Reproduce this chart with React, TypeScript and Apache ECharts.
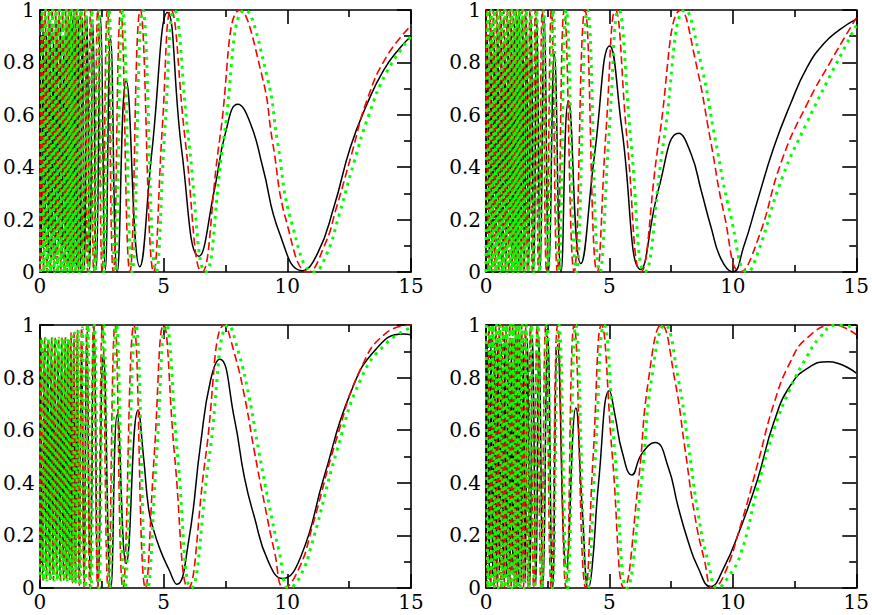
import React, { useEffect, useRef } from "react";
import * as echarts from "echarts";

const xTicks = [0, 5, 10, 15];
const yTicks = [0, 0.2, 0.4, 0.6, 0.8, 1];

// Panel 1 (top left)
const p1Black = [
  [0, 0.9], [0.06, 0.05], [0.13, 0.95], [0.2, 0.1], [0.27, 0.9], [0.34, 0.05], [0.41, 0.95], [0.48, 0.05], [0.55, 0.9],
  [0.62, 0.05], [0.69, 0.95], [0.76, 0.1], [0.83, 0.95], [0.9, 0.05], [0.97, 0.9], [1.04, 0.05], [1.1, 0.95], [1.16, 0.03],
  [1.22, 0.95], [1.27, 0.03], [1.32, 0.97], [1.37, 0.02], [1.43, 0.97], [1.49, 0.02], [1.56, 0.97], [1.64, 0.01], [1.72, 0.97],
  [1.81, 0.01], [1.91, 0.97], [2.02, 0.01], [2.15, 0.95], [2.29, 0.01], [2.46, 0.97], [2.65, 0.01], [2.86, 0.89], [3.13, 0.0],
  [3.49, 0.73], [4.04, 0.02], [4.53, 0.46], [5.16, 0.99], [5.74, 0.46], [6.43, 0.06], [7.07, 0.32], [7.5, 0.53], [8.0, 0.64],
  [8.5, 0.57], [9.01, 0.4], [9.68, 0.15], [10.6, 0.005], [11.22, 0.07], [11.89, 0.25], [12.55, 0.476], [13.22, 0.64],
  [13.89, 0.77], [14.56, 0.856], [15, 0.9],
];
const p1Red = [
  [0.01, 0], [0.08, 1], [0.15, 0], [0.22, 1], [0.29, 0], [0.36, 1], [0.43, 0], [0.5, 1], [0.57, 0], [0.64, 1], [0.71, 0],
  [0.78, 1], [0.85, 0], [0.92, 1], [0.99, 0], [1.05, 1], [1.11, 0], [1.16, 1], [1.21, 0], [1.26, 1], [1.31, 0], [1.37, 1],
  [1.42, 0], [1.49, 1], [1.56, 0], [1.64, 1], [1.72, 0], [1.82, 1], [1.93, 0], [2.05, 1], [2.18, 0], [2.34, 1], [2.52, 0],
  [2.73, 1], [2.97, 0], [3.27, 1], [3.64, 0], [4.06, 1], [4.6, 0], [4.95, 0.55], [5.3, 1], [5.88, 0.5], [6.55, 0], [7.26, 0.5],
  [8.1, 1], [9.0, 0.74], [9.4, 0.5], [10.0, 0.18], [10.85, 0], [11.5, 0.1], [12, 0.25], [12.6, 0.45], [13.2, 0.65],
  [14, 0.82], [15, 0.94],
];
const p1Green = [
  [0.03, 0], [0.1, 1], [0.17, 0], [0.24, 1], [0.31, 0], [0.38, 1], [0.45, 0], [0.52, 1], [0.59, 0], [0.66, 1], [0.73, 0],
  [0.8, 1], [0.87, 0], [0.94, 1], [1.01, 0], [1.07, 1], [1.13, 0], [1.19, 1], [1.24, 0], [1.29, 1], [1.34, 0], [1.4, 1],
  [1.46, 0], [1.53, 1], [1.6, 0], [1.68, 1], [1.76, 0], [1.87, 1], [1.98, 0], [2.1, 1], [2.23, 0], [2.4, 1], [2.58, 0],
  [2.8, 1], [3.04, 0], [3.35, 1], [3.73, 0], [4.16, 1], [4.7, 0], [5.06, 0.55], [5.43, 1], [6.02, 0.5], [6.7, 0], [7.42, 0.5],
  [8.3, 1], [9.2, 0.74], [9.6, 0.5], [10.2, 0.18], [11.1, 0], [11.6, 0.07], [12.1, 0.22], [12.7, 0.42], [13.3, 0.6],
  [14, 0.76], [15, 0.9],
];

// Panel 2 (top right)
const p2Black = [
  [0, 0.1], [0.06, 0.9], [0.13, 0.05], [0.2, 0.95], [0.27, 0.05], [0.34, 0.9], [0.41, 0.1], [0.48, 0.95], [0.55, 0.05],
  [0.62, 0.95], [0.69, 0.05], [0.76, 0.9], [0.83, 0.05], [0.9, 0.95], [0.97, 0.1], [1.03, 0.95], [1.09, 0.05], [1.15, 0.95],
  [1.21, 0.03], [1.26, 0.97], [1.31, 0.02], [1.36, 0.97], [1.42, 0.02], [1.49, 0.97], [1.56, 0.01], [1.64, 0.97], [1.73, 0.01],
  [1.83, 0.97], [1.94, 0.01], [2.06, 0.97], [2.2, 0.01], [2.36, 0.97], [2.55, 0.01], [2.77, 0.83], [3.04, 0.0], [3.34, 0.654],
  [3.84, 0.032], [4.4, 0.45], [5.01, 0.863], [5.5, 0.55], [6.27, 0.01], [7.0, 0.32], [7.81, 0.53], [8.31, 0.45], [8.72, 0.31],
  [9.12, 0.17], [9.52, 0.05], [9.99, 0.0], [10.45, 0.1], [10.99, 0.27], [11.66, 0.476], [12.33, 0.64], [13.0, 0.78],
  [13.67, 0.87], [14.33, 0.925], [15, 0.965],
];
const p2Red = [
  [0.02, 1], [0.09, 0], [0.16, 1], [0.23, 0], [0.3, 1], [0.37, 0], [0.44, 1], [0.51, 0], [0.58, 1], [0.65, 0], [0.72, 1],
  [0.79, 0], [0.86, 1], [0.93, 0], [0.99, 1], [1.05, 0], [1.11, 1], [1.17, 0], [1.23, 1], [1.28, 0], [1.34, 1], [1.39, 0],
  [1.46, 1], [1.52, 0], [1.6, 1], [1.68, 0], [1.78, 1], [1.88, 0], [2.0, 1], [2.13, 0], [2.28, 1], [2.45, 0], [2.65, 1],
  [2.89, 0], [3.17, 1], [3.57, 0], [4.01, 1], [4.5, 0], [4.87, 0.55], [5.24, 1], [5.72, 0.5], [6.27, 0], [7.0, 0.5], [7.91, 1],
  [8.5, 0.8], [9.1, 0.5], [9.65, 0.22], [10.31, 0], [11, 0.12], [12, 0.43], [13, 0.64], [14, 0.81], [15, 0.97],
];
const p2Green = [
  [0.0, 0], [0.07, 1], [0.14, 0], [0.21, 1], [0.28, 0], [0.35, 1], [0.42, 0], [0.49, 1], [0.56, 0], [0.63, 1], [0.7, 0],
  [0.77, 1], [0.84, 0], [0.91, 1], [0.98, 0], [1.04, 1], [1.1, 0], [1.16, 1], [1.21, 0], [1.27, 1], [1.31, 0], [1.37, 1],
  [1.42, 0], [1.49, 1], [1.56, 0], [1.64, 1], [1.72, 0], [1.82, 1], [1.93, 0], [2.05, 1], [2.18, 0], [2.34, 1], [2.51, 0],
  [2.72, 1], [2.96, 0], [3.25, 1], [3.66, 0], [4.11, 1], [4.61, 0], [5.0, 0.55], [5.37, 1], [5.87, 0.5], [6.43, 0], [7.2, 0.5],
  [8.08, 1], [8.7, 0.8], [9.3, 0.5], [9.9, 0.22], [10.6, 0], [11, 0.07], [12, 0.36], [13, 0.57], [14, 0.76], [15, 0.94],
];

// Panel 3 (bottom left)
const p3Black = [
  [0.04, 0.9], [0.11, 0.05], [0.18, 0.9], [0.25, 0.08], [0.32, 0.93], [0.39, 0.05], [0.46, 0.9], [0.53, 0.05], [0.6, 0.93],
  [0.67, 0.08], [0.74, 0.9], [0.81, 0.05], [0.88, 0.93], [0.95, 0.05], [1.01, 0.9], [1.07, 0.05], [1.13, 0.93], [1.19, 0.05],
  [1.25, 0.93], [1.31, 0.03], [1.37, 0.93], [1.44, 0.03], [1.51, 0.93], [1.59, 0.03], [1.69, 0.93], [1.79, 0.03], [1.9, 0.95],
  [2.04, 0.02], [2.19, 1.0], [2.36, 0.01], [2.57, 0.89], [2.87, 0.0], [3.13, 0.66], [3.49, 0.093], [3.97, 0.677], [4.2, 0.49],
  [4.4, 0.3], [4.6, 0.22], [4.87, 0.144], [5.2, 0.074], [5.54, 0.014], [6.0, 0.17], [6.5, 0.55], [6.9, 0.79], [7.27, 0.87],
  [7.87, 0.64], [8.27, 0.42], [8.67, 0.27], [9.21, 0.106], [9.81, 0.036], [10.55, 0.12], [11.48, 0.42], [12.55, 0.74],
  [13.6, 0.91], [14.7, 0.966], [15, 0.963],
];
const p3Red = [
  [0, 0.03], [0.06, 0.95], [0.13, 0.03], [0.2, 0.95], [0.27, 0.03], [0.34, 0.95], [0.41, 0.03], [0.48, 0.95], [0.55, 0.03],
  [0.62, 0.95], [0.69, 0.03], [0.76, 0.95], [0.83, 0.03], [0.9, 0.95], [0.97, 0.03], [1.03, 0.95], [1.09, 0.03], [1.15, 0.95],
  [1.21, 0.03], [1.26, 0.97], [1.32, 0.02], [1.38, 0.97], [1.445, 0.02], [1.52, 0.98], [1.6, 0.01], [1.69, 0.99], [1.79, 0],
  [1.9, 1], [2.02, 0], [2.17, 1], [2.34, 0], [2.53, 1], [2.76, 0], [3.04, 1], [3.36, 0], [3.8, 1], [4.27, 0], [4.62, 0.5],
  [5.0, 1], [5.45, 0.5], [6.0, 0], [6.7, 0.5], [7.47, 1], [7.87, 0.89], [8.27, 0.73], [8.67, 0.52], [9.08, 0.32], [9.48, 0.14],
  [9.88, 0], [10.5, 0.08], [11, 0.23], [12, 0.57], [13, 0.84], [14, 0.97], [15, 1.0],
];
const p3Green = [
  [0.02, 0.05], [0.08, 0.95], [0.15, 0.03], [0.22, 0.95], [0.29, 0.03], [0.36, 0.95], [0.43, 0.03], [0.5, 0.95], [0.57, 0.03],
  [0.64, 0.95], [0.71, 0.03], [0.78, 0.95], [0.85, 0.03], [0.92, 0.95], [0.99, 0.03], [1.05, 0.95], [1.11, 0.03], [1.17, 0.95],
  [1.23, 0.03], [1.29, 0.97], [1.35, 0.02], [1.41, 0.97], [1.47, 0.02], [1.55, 0.98], [1.63, 0.01], [1.72, 0.99], [1.83, 0],
  [1.94, 1], [2.07, 0], [2.21, 1], [2.39, 0], [2.58, 1], [2.82, 0], [3.1, 1], [3.43, 0], [3.88, 1], [4.36, 0], [4.72, 0.5],
  [5.1, 1], [5.57, 0.5], [6.12, 0], [6.85, 0.5], [7.64, 1], [8.05, 0.89], [8.45, 0.73], [8.85, 0.52], [9.26, 0.32], [9.67, 0.14],
  [10.08, 0], [10.5, 0.04], [11, 0.17], [12, 0.52], [13, 0.8], [14, 0.93], [15, 0.99],
];

// Panel 4 (bottom right)
const p4Black = [
  [0, 0.05], [0.06, 0.93], [0.13, 0.03], [0.2, 0.95], [0.27, 0.05], [0.34, 0.93], [0.41, 0.03], [0.48, 0.95], [0.55, 0.05],
  [0.62, 0.93], [0.69, 0.03], [0.76, 0.95], [0.83, 0.05], [0.9, 0.93], [0.97, 0.03], [1.03, 0.95], [1.09, 0.05], [1.15, 0.93],
  [1.21, 0.03], [1.26, 0.95], [1.31, 0.02], [1.37, 0.95], [1.44, 0.02], [1.51, 0.95], [1.59, 0.02], [1.68, 0.95], [1.78, 0.01],
  [1.89, 0.95], [2.02, 0.01], [2.15, 0.95], [2.31, 0.0], [2.5, 0.957], [2.7, 0.0], [2.9, 0.925], [3.26, 0.08], [3.64, 0.684],
  [3.9, 0.3], [4.15, 0.0], [4.3, 0.08], [4.57, 0.41], [5.0, 0.751], [5.24, 0.65], [5.51, 0.52], [5.91, 0.43], [6.31, 0.51],
  [6.85, 0.553], [7.38, 0.46], [7.78, 0.31], [8.18, 0.18], [8.58, 0.08], [9.1, 0.005], [9.6, 0.07], [10.32, 0.23], [10.99, 0.41],
  [11.66, 0.63], [12.33, 0.77], [13.1, 0.84], [13.87, 0.86], [15, 0.817],
];
const p4Red = [
  [0.05, 0], [0.12, 1], [0.19, 0], [0.26, 1], [0.33, 0], [0.4, 1], [0.47, 0], [0.54, 1], [0.61, 0], [0.68, 1], [0.75, 0],
  [0.82, 1], [0.89, 0], [0.96, 1], [1.02, 0], [1.08, 1], [1.14, 0], [1.2, 1], [1.25, 0], [1.31, 1], [1.37, 0], [1.44, 1],
  [1.52, 0], [1.6, 1], [1.7, 0], [1.8, 1], [1.93, 0], [2.07, 1], [2.23, 0], [2.42, 1], [2.64, 0], [2.9, 1], [3.24, 0],
  [3.57, 1], [4.04, 0], [4.34, 0.5], [4.68, 1], [5.12, 0.5], [5.6, 0], [6.18, 0.41], [6.58, 0.79], [7.11, 1], [7.65, 0.79],
  [8.05, 0.537], [8.45, 0.28], [8.85, 0.105], [9.19, 0], [9.6, 0.04], [10.32, 0.24], [11, 0.47], [11.66, 0.7], [12.33, 0.86],
  [13, 0.95], [14.07, 1], [15, 0.963],
];
const p4Green = [
  [0.01, 1], [0.08, 0], [0.15, 1], [0.22, 0], [0.29, 1], [0.36, 0], [0.43, 1], [0.5, 0], [0.57, 1], [0.64, 0], [0.71, 1],
  [0.78, 0], [0.85, 1], [0.92, 0], [0.99, 1], [1.05, 0], [1.11, 1], [1.17, 0], [1.23, 1], [1.28, 0], [1.34, 1], [1.4, 0],
  [1.47, 1], [1.55, 0], [1.63, 1], [1.73, 0], [1.84, 1], [1.97, 0], [2.11, 1], [2.27, 0], [2.47, 1], [2.69, 0], [2.96, 1],
  [3.3, 0], [3.64, 1], [4.12, 0], [4.43, 0.5], [4.78, 1], [5.23, 0.5], [5.71, 0], [6.3, 0.41], [6.7, 0.79], [7.25, 1],
  [7.8, 0.79], [8.2, 0.54], [8.6, 0.28], [9.0, 0.1], [9.39, 0], [9.8, 0.04], [10.32, 0.13], [11, 0.38], [11.66, 0.6],
  [12.33, 0.76], [13, 0.88], [13.5, 0.95], [14.2, 1], [15, 0.99],
];

const panels = [
  { black: p1Black, red: p1Red, green: p1Green },
  { black: p2Black, red: p2Red, green: p2Green },
  { black: p3Black, red: p3Red, green: p3Green },
  { black: p4Black, red: p4Red, green: p4Green },
];

const gridBoxes = [
  { left: 37, top: 9, width: 374, height: 263 },
  { left: 486, top: 9, width: 374, height: 263 },
  { left: 37, top: 325, width: 374, height: 263 },
  { left: 486, top: 325, width: 374, height: 263 },
];

const FONT = "DejaVu Serif";

function buildOption() {
  const lineStyle = { color: "#000", width: 1.6 };
  const tick = { show: true, inside: true, length: 14, lineStyle };
  const minor = { show: true, splitNumber: 2, length: 7, lineStyle };
  const label = {
    fontFamily: FONT,
    fontSize: 20,
    lineHeight: 16,
    color: "#000",
    fontWeight: "normal",
    fontStyle: "normal",
  };
  const xMin = xTicks[0];
  const xMax = xTicks[xTicks.length - 1];
  const xInt = xTicks[1] - xTicks[0];
  const yMin = yTicks[0];
  const yMax = yTicks[yTicks.length - 1];
  const yInt = yTicks[1] - yTicks[0];

  const grid: any[] = [];
  const xAxis: any[] = [];
  const yAxis: any[] = [];
  const series: any[] = [];

  gridBoxes.forEach((g, i) => {
    grid.push({ ...g, containLabel: false, show: false });
    ["bottom", "top"].forEach((pos) => {
      xAxis.push({
        type: "value",
        gridIndex: i,
        position: pos,
        min: xMin,
        max: xMax,
        interval: xInt,
        axisLine: { show: true, onZero: false, lineStyle },
        axisTick: tick,
        minorTick: minor,
        splitLine: { show: false },
        minorSplitLine: { show: false },
        axisLabel: pos === "bottom" ? { ...label, margin: 6 } : { show: false },
      });
    });
    ["left", "right"].forEach((pos) => {
      yAxis.push({
        type: "value",
        gridIndex: i,
        position: pos,
        min: yMin,
        max: yMax,
        interval: yInt,
        axisLine: { show: true, onZero: false, lineStyle },
        axisTick: tick,
        minorTick: minor,
        splitLine: { show: false },
        minorSplitLine: { show: false },
        axisLabel: pos === "left" ? { ...label, margin: 5, padding: [4, 0, 0, 0] } : { show: false },
      });
    });
    const p = panels[i];
    const common = {
      type: "line",
      xAxisIndex: i * 2,
      yAxisIndex: i * 2,
      showSymbol: false,
      symbol: "none",
      smooth: 0.5,
      silent: true,
    };
    series.push({ ...common, name: "black" + i, data: p.black, lineStyle: { color: "#000000", width: 1.5 }, z: 2 });
    series.push({ ...common, name: "red" + i, data: p.red, lineStyle: { color: "#ff0000", width: 1.6, type: [8, 4] }, z: 3 });
    series.push({ ...common, name: "green" + i, data: p.green, lineStyle: { color: "#00ff00", width: 3, type: [3, 5], cap: "butt" }, z: 4 });
  });

  return {
    animation: false,
    textStyle: { fontFamily: FONT },
    grid,
    xAxis,
    yAxis,
    series,
  };
}

export default function App() {
  const ref = useRef<HTMLDivElement>(null);
  useEffect(() => {
    if (!ref.current) return;
    const chart = echarts.init(ref.current, undefined, { renderer: "svg" });
    chart.setOption(buildOption() as any);
    return () => chart.dispose();
  }, []);
  return (
    <div
      ref={ref}
      style={{ position: "absolute", left: 0, top: 0, width: 872, height: 615, background: "#fff" }}
    />
  );
}
